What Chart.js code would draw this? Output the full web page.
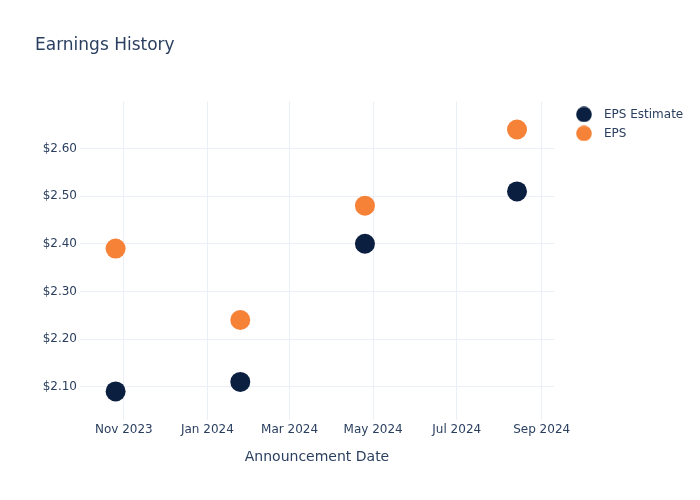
<!DOCTYPE html>
<html>
<head>
<meta charset="utf-8">
<script src="https://cdn.jsdelivr.net/npm/chart.js@4"></script>
<style>
  html, body { margin: 0; padding: 0; background: #ffffff; }
  #wrap { width: 700px; height: 500px; }
</style>
</head>
<body>
<div id="wrap"><canvas id="c" width="700" height="500"></canvas></div>
<script>
// ---- data ----
const announcementDates = ['2023-10-26', '2024-01-25', '2024-04-25', '2024-08-14'];
const epsEstimate = [2.09, 2.11, 2.40, 2.51];
const epsActual = [2.39, 2.24, 2.48, 2.64];
const xTickDates = ['2023-11-01', '2024-01-01', '2024-03-01', '2024-05-01', '2024-07-01', '2024-09-01'];
const xTickLabels = ['Nov 2023', 'Jan 2024', 'Mar 2024', 'May 2024', 'Jul 2024', 'Sep 2024'];
const yTickValues = [2.10, 2.20, 2.30, 2.40, 2.50, 2.60];
const yTickLabels = ['$2.10', '$2.20', '$2.30', '$2.40', '$2.50', '$2.60'];
const xRange = ['2023-09-30', '2024-09-10'];
const yRange = [2.030, 2.699];

const ts = d => Date.parse(d + 'T00:00:00Z');
const FONT = "'DejaVu Sans', sans-serif";
const TEXT = '#2a3f5f';
const GRID = '#ebf0f8';
const NAVY = '#0b1f41';
const ORANGE = '#f58236';

const toPoints = vals => vals.map((v, i) => ({ x: ts(announcementDates[i]), y: v }));

// legend marker icons (circle on the left part of a wider icon box)
function legendIcon(color) {
  const c = document.createElement('canvas');
  c.width = 22; c.height = 16;
  const g = c.getContext('2d');
  g.fillStyle = color;
  g.beginPath();
  g.arc(8, 8, 7.8, 0, Math.PI * 2);
  g.fill();
  return c;
}
const legendIcons = [legendIcon(NAVY), legendIcon(ORANGE)];

const chart = new Chart(document.getElementById('c'), {
  type: 'scatter',
  data: {
    datasets: [
      {
        label: 'EPS Estimate',
        data: toPoints(epsEstimate),
        backgroundColor: NAVY,
        borderColor: NAVY,
        borderWidth: 0,
        pointRadius: 10,
        pointHoverRadius: 10,
        pointStyle: 'circle'
      },
      {
        label: 'EPS',
        data: toPoints(epsActual),
        backgroundColor: ORANGE,
        borderColor: ORANGE,
        borderWidth: 0,
        pointRadius: 10,
        pointHoverRadius: 10,
        pointStyle: 'circle'
      }
    ]
  },
  options: {
    responsive: false,
    animation: false,
    devicePixelRatio: 1,
    layout: { padding: { left: 35, right: 11, top: 0, bottom: 0 } },
    plugins: {
      title: {
        display: true,
        text: 'Earnings History',
        align: 'start',
        color: TEXT,
        font: { family: FONT, size: 17, weight: 'normal' },
        padding: { top: 35, bottom: 46 }
      },
      legend: {
        display: true,
        position: 'right',
        align: 'start',
        fullSize: false,
        labels: {
          usePointStyle: true,
          pointStyleWidth: 22,
          boxWidth: 11,
          boxHeight: 11,
          padding: 7,
          color: TEXT,
          font: { family: FONT, size: 12 },
          generateLabels: (chart) =>
            Chart.defaults.plugins.legend.labels.generateLabels(chart)
              .map((item, i) => Object.assign(item, { pointStyle: legendIcons[i] }))
        }
      },
      tooltip: { enabled: false }
    },
    scales: {
      x: {
        type: 'linear',
        min: ts(xRange[0]),
        max: ts(xRange[1]),
        afterBuildTicks: s => { s.ticks = xTickDates.map(d => ({ value: ts(d) })); },
        afterFit: s => { s.height = 80; },
        grid: { color: GRID, drawTicks: false, lineWidth: 1 },
        border: { display: false },
        ticks: {
          color: TEXT,
          font: { family: FONT, size: 12 },
          padding: 3,
          maxRotation: 0,
          autoSkip: false,
          callback: (v) => {
            const i = xTickDates.findIndex(d => ts(d) === v);
            return i >= 0 ? xTickLabels[i] : '';
          }
        },
        title: {
          display: true,
          text: 'Announcement Date',
          color: TEXT,
          font: { family: FONT, size: 14 },
          padding: { top: 0, bottom: 34 }
        }
      },
      y: {
        type: 'linear',
        min: yRange[0],
        max: yRange[1],
        afterBuildTicks: s => { s.ticks = yTickValues.map(v => ({ value: v })); },
        afterFit: s => { s.width = 45; },
        grid: { color: GRID, drawTicks: false, lineWidth: 1 },
        border: { display: false },
        ticks: {
          color: TEXT,
          font: { family: FONT, size: 12 },
          padding: 3,
          autoSkip: false,
          callback: (v) => {
            const i = yTickValues.findIndex(t => Math.abs(t - v) < 1e-9);
            return i >= 0 ? yTickLabels[i] : '';
          }
        }
      },
      gap: {
        type: 'linear',
        position: 'right',
        display: true,
        afterFit: s => { s.width = 15; },
        grid: { display: false },
        border: { display: false },
        ticks: { display: false }
      }
    }
  }
});

// widen the legend box to account for the wider marker icons
const baseFit = chart.legend.fit.bind(chart.legend);
chart.legend.fit = function () { baseFit(); this.width += 11; };
chart.update();
</script>
</body>
</html>
